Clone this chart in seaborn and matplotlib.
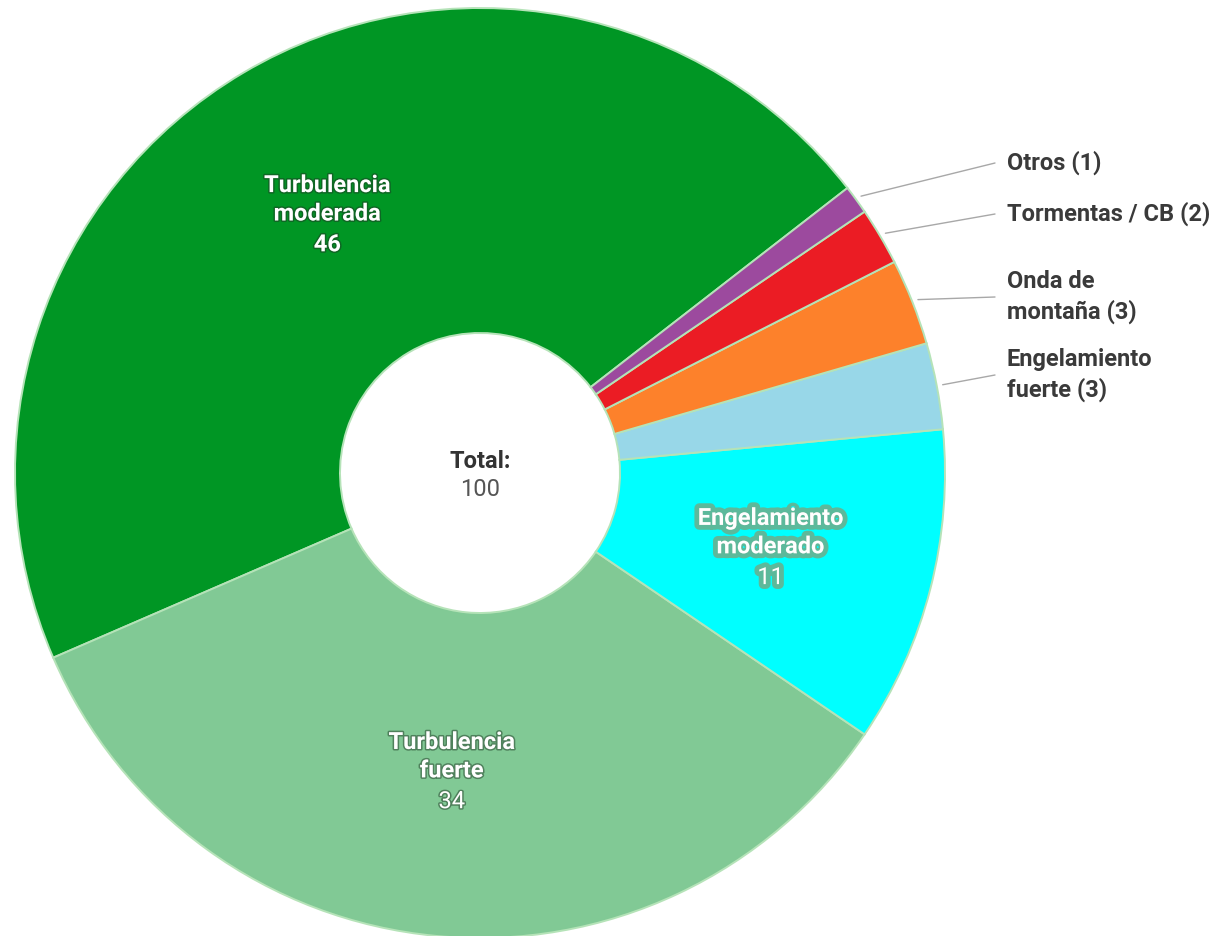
import matplotlib
matplotlib.use("Agg")
import matplotlib.pyplot as plt
import matplotlib.patheffects as pe
import numpy as np
import seaborn as sns

# ---- data ----
categories = ["Turbulencia moderada", "Turbulencia fuerte", "Engelamiento moderado",
              "Engelamiento fuerte", "Onda de montaña", "Tormentas / CB", "Otros"]
values = [46, 34, 11, 3, 3, 2, 1]
colors = ["#009624", "#81C995", "#00FFFF", "#98D7E8", "#FD812B", "#EB1C24", "#9C4A9E"]
inside_titles = ["Turbulencia\nmoderada", "Turbulencia\nfuerte", "Engelamiento\nmoderado"]
outside_titles = ["Engelamiento\nfuerte (3)", "Onda de\nmontaña (3)", "Tormentas / CB (2)", "Otros (1)"]

sns.set_theme(style="white")
plt.rcParams["font.family"] = ["Roboto", "DejaVu Sans"]

W, H = 1214, 936
fig = plt.figure(figsize=(W / 100, H / 100), dpi=100)
ax = fig.add_axes([0, 0, 1, 1])

cx, cy = 480, H - 473
R = 465
r_in = 140
start = 37.8

wedges, _ = ax.pie(values, colors=colors, startangle=start, counterclock=True,
                   radius=R, center=(cx, cy),
                   wedgeprops=dict(width=R - r_in, edgecolor="#B5E3B8", linewidth=1.4))
ax.set_xlim(0, W)
ax.set_ylim(0, H)
ax.set_aspect("equal")
ax.axis("off")

def mid_angle(w):
    return np.deg2rad((w.theta1 + w.theta2) / 2)

FS = 17
# inside labels
label_r = 300
num_bold = [True, False, False]
for i in range(3):
    a = mid_angle(wedges[i])
    x, y = cx + label_r * np.cos(a), cy + label_r * np.sin(a)
    if i == 2:
        effects = [pe.withStroke(linewidth=7, foreground="#74A882", alpha=0.8)]
    else:
        effects = [pe.withStroke(linewidth=2.2, foreground="#1e3a24", alpha=0.5)]
    ax.text(x, y + 15, inside_titles[i], ha="center", va="center", color="white",
            fontsize=FS, fontweight="bold", linespacing=1.3, path_effects=effects)
    ax.text(x, y - 30, str(values[i]), ha="center", va="center", color="white",
            fontsize=FS, fontweight="bold" if num_bold[i] else "normal",
            path_effects=effects)

# outside labels with leader lines
text_y = [H - 375, H - 297, H - 214, H - 163]
line_end_x = 995
text_x = 1007
for k, idx in enumerate([3, 4, 5, 6]):
    a = mid_angle(wedges[idx])
    x0, y0 = cx + (R + 6) * np.cos(a), cy + (R + 6) * np.sin(a)
    ax.plot([x0, line_end_x], [y0, text_y[k]], color="#A8A8A8", lw=1.0,
            solid_capstyle="round")
    ax.text(text_x, text_y[k], outside_titles[k], ha="left", va="center",
            color="#3A3A3A", fontsize=FS, fontweight="bold", linespacing=1.3)

# center total
ax.text(cx, cy + 12, "Total:", ha="center", va="center", color="#333333",
        fontsize=FS, fontweight="bold")
ax.text(cx, cy - 17, str(sum(values)), ha="center", va="center", color="#555555",
        fontsize=FS)

fig.savefig("out.png", dpi=100, facecolor="white")
